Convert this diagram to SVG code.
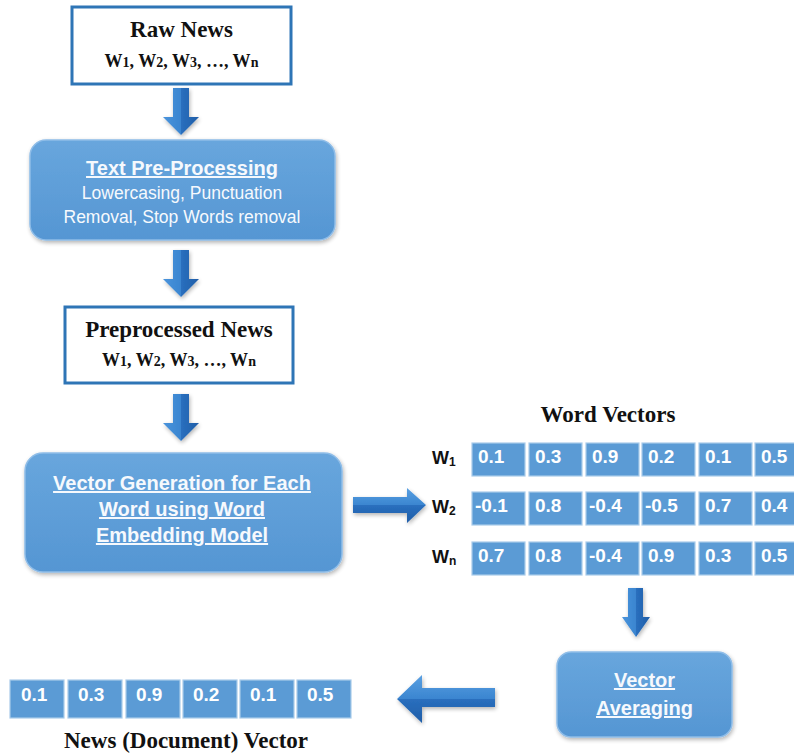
<svg xmlns="http://www.w3.org/2000/svg" width="794" height="753" viewBox="0 0 794 753">
<defs>
  <linearGradient id="boxGrad" x1="0" y1="0" x2="0" y2="1">
    <stop offset="0" stop-color="#68a6dd"/>
    <stop offset="1" stop-color="#5596d3"/>
  </linearGradient>
  <linearGradient id="arrV" x1="0" y1="0" x2="1" y2="0">
    <stop offset="0" stop-color="#4a94dc"/>
    <stop offset="0.5" stop-color="#3a85d0"/>
    <stop offset="0.5" stop-color="#2a6fbe"/>
    <stop offset="1" stop-color="#1f5ea8"/>
  </linearGradient>
  <linearGradient id="arrH" x1="0" y1="0" x2="0" y2="1">
    <stop offset="0" stop-color="#5aa0e2"/>
    <stop offset="0.5" stop-color="#3a85d0"/>
    <stop offset="0.5" stop-color="#2a6fbe"/>
    <stop offset="1" stop-color="#1f5ea8"/>
  </linearGradient>
  <filter id="shadow" x="-10%" y="-10%" width="130%" height="130%">
    <feGaussianBlur in="SourceAlpha" stdDeviation="2"/>
    <feOffset dx="1" dy="2" result="b"/>
    <feComponentTransfer><feFuncA type="linear" slope="0.3"/></feComponentTransfer>
    <feMerge><feMergeNode/><feMergeNode in="SourceGraphic"/></feMerge>
  </filter>
</defs>
<style>
  .plain { fill: #ffffff; stroke: #2e75b6; stroke-width: 3; }
  .round { fill: url(#boxGrad); stroke: #8fbde8; stroke-width: 1.5; filter: url(#shadow); }
  .serif { font-family: "Liberation Serif", "Times New Roman", serif; font-weight: bold; fill: #111111; text-anchor: middle; }
  .title { font-size: 23px; }
  .words { font-size: 18px; }
  .btxt { font-family: "Liberation Sans", Arial, sans-serif; fill: #f6f9fd; text-anchor: middle; }
  .bhead { font-weight: bold; font-size: 20px; text-decoration: underline; }
  .bsub { font-size: 17.5px; }
  .cell { fill: #5b9bd5; stroke: #a9cbea; stroke-width: 1.2; }
  .num { font-family: "Liberation Sans", Arial, sans-serif; font-weight: bold; font-size: 19px; fill: #ffffff; }
  .wlab { font-family: "Liberation Sans", Arial, sans-serif; font-weight: bold; font-size: 18px; fill: #111111; }
  .arrow { fill: url(#arrV); filter: url(#shadow); }
  .arrowh { fill: url(#arrH); filter: url(#shadow); }
</style>

<g id="connectors">
  <polygon class="arrow" points="173,88 189,88 189,117 199,117 181,135 163,117 173,117"/>
  <polygon class="arrow" points="173,250 189,250 189,279 199,279 181,297 163,279 173,279"/>
  <polygon class="arrow" points="173,394 189,394 189,423 199,423 181,441 163,423 173,423"/>
  <polygon class="arrowh" points="353,497 407,497 407,488 426,505 407,523 407,513 353,513"/>
  <polygon class="arrow" points="628,588 643,588 643,617 650,617 636,637 622,617 628,617"/>
  <polygon class="arrowh" points="495,688 422,688 422,675 397,699 422,723 422,707 495,707"/>
</g>

<g id="raw-news">
  <rect class="plain" x="72" y="7" width="219" height="77"/>
  <text class="serif title" x="181.5" y="37">Raw News</text>
  <text class="serif words" x="181.5" y="67">W<tspan font-size="14">1</tspan>, W<tspan font-size="14">2</tspan>, W<tspan font-size="14">3</tspan>, …, W<tspan font-size="14">n</tspan></text>
</g>

<g id="text-preprocessing">
  <rect class="round" x="30" y="140" width="305" height="100" rx="16"/>
  <text class="btxt bhead" x="182" y="175">Text Pre-Processing</text>
  <text class="btxt bsub" x="182" y="199">Lowercasing, Punctuation</text>
  <text class="btxt bsub" x="182" y="223">Removal, Stop Words removal</text>
</g>

<g id="preprocessed-news">
  <rect class="plain" x="65" y="307" width="228" height="76"/>
  <text class="serif title" x="179" y="337">Preprocessed News</text>
  <text class="serif words" x="179" y="366">W<tspan font-size="14">1</tspan>, W<tspan font-size="14">2</tspan>, W<tspan font-size="14">3</tspan>, …, W<tspan font-size="14">n</tspan></text>
</g>

<g id="vector-generation">
  <rect class="round" x="25" y="453" width="317" height="119" rx="18"/>
  <text class="btxt bhead" x="182" y="490">Vector Generation for Each</text>
  <text class="btxt bhead" x="182" y="516">Word using Word</text>
  <text class="btxt bhead" x="182" y="542">Embedding Model</text>
</g>

<g id="word-vectors">
  <text class="serif title" x="608" y="422">Word Vectors</text>
  <text class="wlab" x="432" y="464">W<tspan font-size="12" dy="2">1</tspan></text>
  <text class="wlab" x="432" y="513">W<tspan font-size="12" dy="2">2</tspan></text>
  <text class="wlab" x="432" y="563">W<tspan font-size="12" dy="2">n</tspan></text>
  <g>
    <rect class="cell" x="472" y="443" width="53" height="33"/>
    <rect class="cell" x="529" y="443" width="53" height="33"/>
    <rect class="cell" x="586" y="443" width="53" height="33"/>
    <rect class="cell" x="642" y="443" width="53" height="33"/>
    <rect class="cell" x="699" y="443" width="53" height="33"/>
    <rect class="cell" x="755" y="443" width="53" height="33"/>
    <text class="num" x="478" y="463">0.1</text>
    <text class="num" x="535" y="463">0.3</text>
    <text class="num" x="592" y="463">0.9</text>
    <text class="num" x="648" y="463">0.2</text>
    <text class="num" x="705" y="463">0.1</text>
    <text class="num" x="761" y="463">0.5</text>
  </g>
  <g>
    <rect class="cell" x="472" y="492" width="53" height="33"/>
    <rect class="cell" x="529" y="492" width="53" height="33"/>
    <rect class="cell" x="586" y="492" width="53" height="33"/>
    <rect class="cell" x="642" y="492" width="53" height="33"/>
    <rect class="cell" x="699" y="492" width="53" height="33"/>
    <rect class="cell" x="755" y="492" width="53" height="33"/>
    <text class="num" x="475" y="512">-0.1</text>
    <text class="num" x="535" y="512">0.8</text>
    <text class="num" x="589" y="512">-0.4</text>
    <text class="num" x="645" y="512">-0.5</text>
    <text class="num" x="705" y="512">0.7</text>
    <text class="num" x="761" y="512">0.4</text>
  </g>
  <g>
    <rect class="cell" x="472" y="542" width="53" height="33"/>
    <rect class="cell" x="529" y="542" width="53" height="33"/>
    <rect class="cell" x="586" y="542" width="53" height="33"/>
    <rect class="cell" x="642" y="542" width="53" height="33"/>
    <rect class="cell" x="699" y="542" width="53" height="33"/>
    <rect class="cell" x="755" y="542" width="53" height="33"/>
    <text class="num" x="478" y="562">0.7</text>
    <text class="num" x="535" y="562">0.8</text>
    <text class="num" x="589" y="562">-0.4</text>
    <text class="num" x="648" y="562">0.9</text>
    <text class="num" x="705" y="562">0.3</text>
    <text class="num" x="761" y="562">0.5</text>
  </g>
</g>

<g id="vector-averaging">
  <rect class="round" x="557" y="652" width="175" height="85" rx="14"/>
  <text class="btxt bhead" x="644.5" y="687">Vector</text>
  <text class="btxt bhead" x="644.5" y="715">Averaging</text>
</g>

<g id="news-vector">
  <rect class="cell" x="10" y="680" width="54" height="38"/>
  <rect class="cell" x="68" y="680" width="54" height="38"/>
  <rect class="cell" x="126" y="680" width="54" height="38"/>
  <rect class="cell" x="183" y="680" width="54" height="38"/>
  <rect class="cell" x="240" y="680" width="54" height="38"/>
  <rect class="cell" x="297" y="680" width="54" height="38"/>
  <text class="num" x="21" y="701">0.1</text>
  <text class="num" x="78" y="701">0.3</text>
  <text class="num" x="136" y="701">0.9</text>
  <text class="num" x="193" y="701">0.2</text>
  <text class="num" x="250" y="701">0.1</text>
  <text class="num" x="307" y="701">0.5</text>
  <text class="serif title" x="186" y="748">News (Document) Vector</text>
</g>
</svg>
